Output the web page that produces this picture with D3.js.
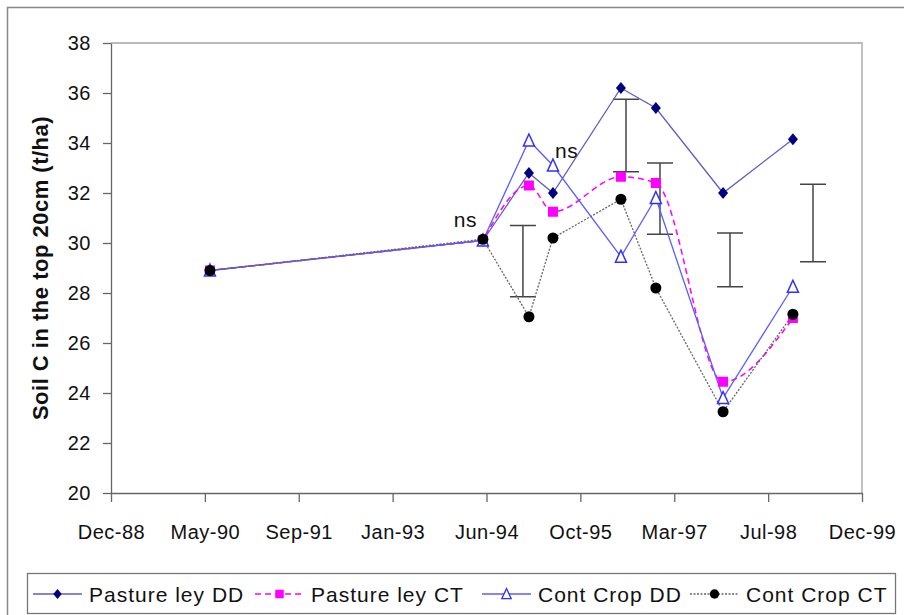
<!DOCTYPE html>
<html>
<head>
<meta charset="utf-8">
<title>Soil C</title>
<script src="https://d3js.org/d3.v7.min.js"></script>
<style>
  body { margin: 0; background: #fff; }
  svg text { font-family: "Liberation Sans", Arial, sans-serif; fill: #111; }
  .axis text { font-size: 20px; letter-spacing: 0.5px; }
  .axis path, .axis line { stroke: #666; stroke-width: 1.3; }
  .legend text { font-size: 21px; letter-spacing: 1px; }
</style>
</head>
<body>
<script>

// sampling dates
var dates = ["1990-06-03", "1994-05-27", "1995-01-27", "1995-06-04",
             "1996-05-31", "1996-12-03", "1997-11-26", "1998-12-03"];

var pastureDD = [28.9, 30.1, 32.8, 32.0, 36.2, 35.4, 32.0, 34.15];
var pastureCT = [28.9, 30.1, 32.3, 31.25, 32.65, 32.4, 24.45, 27.0];
var cropDD    = [28.9, 30.1, 34.1, 33.1, 29.45, 31.8, 23.8, 28.25];
var cropCT    = [28.9, 30.15, 27.05, 30.2, 31.75, 28.2, 23.25, 27.15];

// LSD bars
var ebDates = ["1994-12-26", "1996-06-27", "1996-12-25", "1998-01-02", "1999-03-20"];
var ebLow   = [27.85, 32.85, 30.35, 28.25, 29.25];
var ebHigh  = [30.7, 35.75, 33.2, 30.4, 32.35];

// ns labels
var nsDates = ["1993-12-23", "1995-06-15"];
var nsVals  = [30.65, 33.4];

var xTicks = ["1988-12-23", "1990-05-07", "1991-09-19", "1993-01-31", "1994-06-15",
              "1995-10-28", "1997-03-11", "1998-07-24", "1999-12-06"];
var yTicks = [20, 22, 24, 26, 28, 30, 32, 34, 36, 38];

var names = ["Pasture ley DD", "Pasture ley CT", "Cont Crop DD", "Cont Crop CT"];

var parse = d3.timeParse("%Y-%m-%d");

var width = 904, height = 615;
var plotL = 111, plotR = 862, plotT = 43, plotB = 493;

var svg = d3.select("body").append("svg")
    .attr("width", width)
    .attr("height", height);

// chart border (runs off the page on right / bottom)
svg.append("rect")
    .attr("x", 7.5).attr("y", 7.5)
    .attr("width", 940).attr("height", 660)
    .attr("fill", "none").attr("stroke", "#888").attr("stroke-width", 1.5);

var x = d3.scaleTime()
    .domain([parse(xTicks[0]), parse(xTicks[xTicks.length - 1])])
    .range([plotL, plotR]);

var y = d3.scaleLinear()
    .domain([20, 38])
    .range([plotB, plotT]);

// plot area border
svg.append("path")
    .attr("d", "M" + plotL + "," + plotT + "H" + plotR + "V" + plotB)
    .attr("fill", "none").attr("stroke", "#bbb").attr("stroke-width", 1.8);

svg.append("g")
    .attr("class", "axis")
    .attr("transform", "translate(0," + plotB + ")")
    .call(d3.axisBottom(x)
      .tickValues(xTicks.map(parse))
      .tickFormat(d3.timeFormat("%b-%y"))
      .tickSize(9).tickSizeOuter(0).tickPadding(23));

svg.append("g")
    .attr("class", "axis")
    .attr("transform", "translate(" + plotL + ",0)")
    .call(d3.axisLeft(y)
      .tickValues(yTicks)
      .tickSize(8).tickSizeOuter(0).tickPadding(12));

svg.append("text")
    .attr("transform", "translate(48," + (plotT + plotB) / 2 + ") rotate(-90)")
    .attr("text-anchor", "middle")
    .style("font-size", "22px")
    .style("font-weight", "bold")
    .style("letter-spacing", "0.5px")
    .text("Soil C in the top 20cm (t/ha)");

// error bars
ebDates.forEach(function(d, i) {
  var ex = x(parse(d));
  var g = svg.append("g").attr("stroke", "#444").attr("stroke-width", 1.5);
  g.append("line").attr("x1", ex).attr("x2", ex).attr("y1", y(ebLow[i])).attr("y2", y(ebHigh[i]));
  g.append("line").attr("x1", ex - 13).attr("x2", ex + 13).attr("y1", y(ebLow[i])).attr("y2", y(ebLow[i]));
  g.append("line").attr("x1", ex - 13).attr("x2", ex + 13).attr("y1", y(ebHigh[i])).attr("y2", y(ebHigh[i]));
});

nsDates.forEach(function(d, i) {
  svg.append("text")
      .attr("x", x(parse(d))).attr("y", y(nsVals[i]))
      .style("font-size", "21px")
      .style("letter-spacing", "0.5px")
      .text("ns");
});

// markers
function diamond(s) { s = s || 1; return "M0," + (-6 * s) + "L" + (5 * s) + ",0L0," + (6 * s) + "L" + (-5 * s) + ",0Z"; }
function square(s) { s = s || 1; return "M" + (-5 * s) + "," + (-5 * s) + "h" + (10 * s) + "v" + (10 * s) + "h" + (-10 * s) + "Z"; }
function triangle(s) { s = s || 1; return "M0," + (-6.5 * s) + "L" + (5.5 * s) + "," + (5.5 * s) + "H" + (-5.5 * s) + "Z"; }
function circle(s) { s = s || 1; return d3.symbol().type(d3.symbolCircle).size(95 * s * s)(); }

var series = [
  { values: pastureDD, line: "#5c5cc8", dash: null, width: 1.3, smooth: false,
    shape: diamond, fill: "#000080", stroke: "none" },
  { values: pastureCT, line: "#ff00ff", dash: "6,4", width: 1.5, smooth: true,
    shape: square, fill: "#ff00ff", stroke: "none" },
  { values: cropDD, line: "#5c5cff", dash: null, width: 1.3, smooth: false,
    shape: triangle, fill: "#fff", stroke: "#2f2fff" },
  { values: cropCT, line: "#666", dash: "2,1.5", width: 1.3, smooth: false,
    shape: circle, fill: "#000", stroke: "none" }
];

series.forEach(function(s) {
  var pts = s.values.map(function(v, i) { return [x(parse(dates[i])), y(v)]; });
  var d;
  if (s.smooth) {
    // long first leg stays straight, the rest is smoothed
    d = d3.line()(pts.slice(0, 2)) + d3.line().curve(d3.curveMonotoneX)(pts.slice(1)).replace(/^M[^CL]*/, "");
  } else {
    d = d3.line()(pts);
  }
  svg.append("path")
      .attr("d", d)
      .attr("fill", "none")
      .attr("stroke", s.line)
      .attr("stroke-width", s.width)
      .attr("stroke-dasharray", s.dash);
});

series.forEach(function(s) {
  svg.append("g").selectAll("path")
      .data(s.values)
    .enter().append("path")
      .attr("transform", function(v, i) { return "translate(" + x(parse(dates[i])) + "," + y(v) + ")"; })
      .attr("d", s.shape())
      .attr("fill", s.fill)
      .attr("stroke", s.stroke)
      .attr("stroke-width", 1.5);
});

// legend
var legend = svg.append("g").attr("class", "legend");
legend.append("rect")
    .attr("x", 27.5).attr("y", 573.5)
    .attr("width", 868).attr("height", 40)
    .attr("fill", "#fff").attr("stroke", "#777").attr("stroke-width", 1.3);

var legX = [33, 255, 482, 690];
series.forEach(function(s, i) {
  var g = legend.append("g").attr("transform", "translate(" + legX[i] + ",594)");
  g.append("line")
      .attr("x1", 0).attr("x2", 49)
      .attr("stroke", s.line).attr("stroke-width", s.width)
      .attr("stroke-dasharray", s.dash);
  g.append("path")
      .attr("transform", "translate(24.5,0)")
      .attr("d", s.shape(0.85))
      .attr("fill", s.fill).attr("stroke", s.stroke).attr("stroke-width", 1.3);
  g.append("text")
      .attr("x", 56).attr("dy", "0.36em")
      .text(names[i]);
});

</script>
</body>
</html>
